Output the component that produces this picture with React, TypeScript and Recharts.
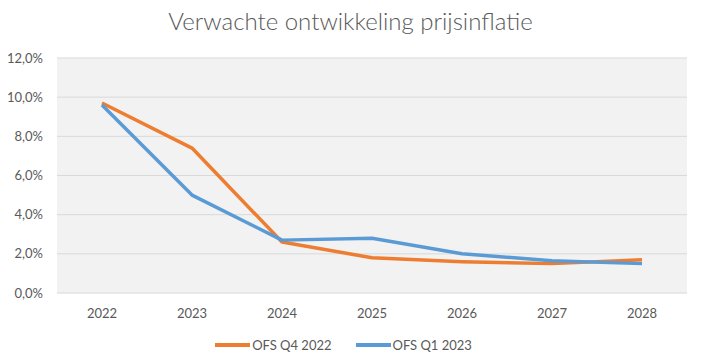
import React from 'react';
import { LineChart, Line, XAxis, YAxis, CartesianGrid, Legend } from 'recharts';

const years = ['2022', '2023', '2024', '2025', '2026', '2027', '2028'];
const ofsQ4_2022 = [9.7, 7.4, 2.6, 1.8, 1.6, 1.5, 1.7];
const ofsQ1_2023 = [9.6, 5.0, 2.7, 2.8, 2.0, 1.65, 1.5];
const yTicks = [0, 2, 4, 6, 8, 10, 12];
const seriesNames = ['OFS Q4 2022', 'OFS Q1 2023'];

const data = years.map((year, i) => ({
  year,
  q4: ofsQ4_2022[i],
  q1: ofsQ1_2023[i],
}));

const font = "'Lato', sans-serif";
const textColor = '#595959';

const fmtPct = (v: number) => v.toFixed(1).replace('.', ',') + '%';

const LegendContent = ({ payload }: any) => {
  const items = [...(payload || [])].sort(
    (a: any, b: any) => seriesNames.indexOf(a.value) - seriesNames.indexOf(b.value)
  );
  return (
    <div style={{ display: 'flex', justifyContent: 'center', gap: '24px', paddingTop: 14, fontFamily: font, fontSize: 13, color: textColor }}>
      {items.map((p: any) => (
        <div key={p.value} style={{ display: 'flex', alignItems: 'center' }}>
          <span style={{ display: 'inline-block', width: 35, height: 4, background: p.color, marginRight: 2 }} />
          <span>{p.value}</span>
        </div>
      ))}
    </div>
  );
};

export default function App() {
  return (
    <div style={{ position: 'absolute', left: 0, top: 0, width: 701, height: 361, background: '#fff' }}>
      <div
        style={{
          position: 'absolute',
          top: 6,
          left: 0,
          width: 701,
          textAlign: 'center',
          fontFamily: font,
          fontSize: 24,
          fontWeight: 300,
          color: textColor,
        }}
      >
        Verwachte ontwikkeling prijsinflatie
      </div>
      <LineChart width={701} height={361} data={data} margin={{ top: 58, right: 14, bottom: 0, left: 0 }}>
        <CartesianGrid vertical={false} stroke="#d9d9d9" fill="#f2f2f2" />
        <XAxis
          dataKey="year"
          axisLine={false}
          tickLine={false}
          tickSize={0}
          tickMargin={16}
          height={30}
          padding={{ left: 45, right: 45 }}
          tick={{ fill: textColor, fontSize: 13, fontFamily: font }}
        />
        <YAxis
          domain={[0, 12]}
          ticks={yTicks}
          tickFormatter={fmtPct}
          axisLine={false}
          tickLine={false}
          tickSize={0}
          tickMargin={14}
          width={57}
          tick={{ fill: textColor, fontSize: 13, fontFamily: font }}
        />
        <Legend verticalAlign="bottom" height={38} content={<LegendContent />} />
        <Line
          dataKey="q4"
          name="OFS Q4 2022"
          stroke="#ED7D31"
          strokeWidth={3.5}
          dot={false}
          strokeLinejoin="round"
          isAnimationActive={false}
        />
        <Line
          dataKey="q1"
          name="OFS Q1 2023"
          stroke="#5B9BD5"
          strokeWidth={3.5}
          dot={false}
          strokeLinejoin="round"
          isAnimationActive={false}
        />
      </LineChart>
    </div>
  );
}
